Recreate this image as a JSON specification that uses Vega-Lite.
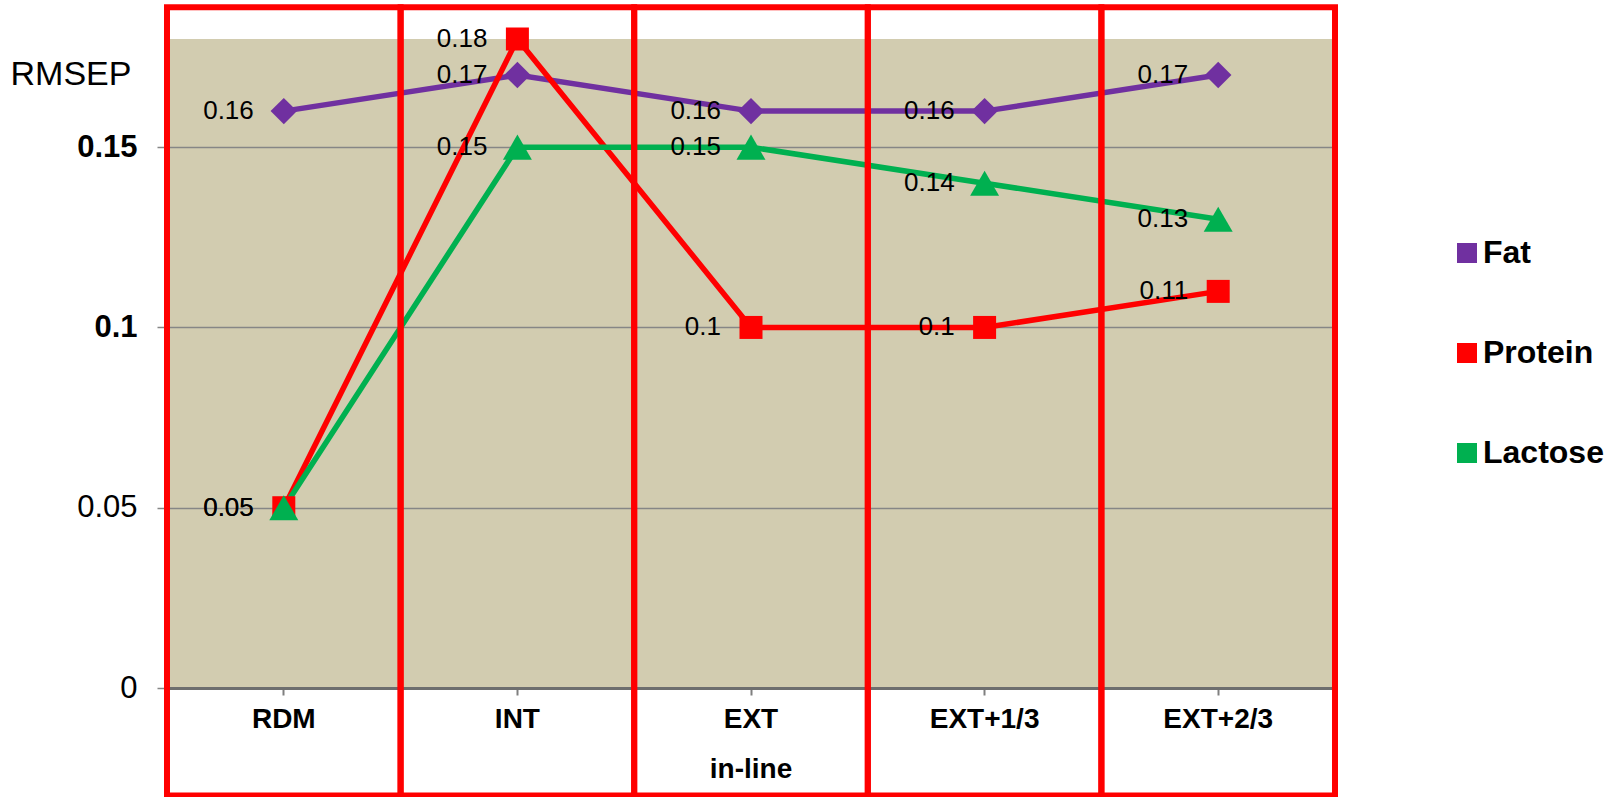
{
  "$schema": "https://vega.github.io/schema/vega-lite/v6.json",
  "width": 1168,
  "height": 649,
  "autosize": {"type": "none"},
  "padding": {"left": 167, "top": 39, "right": 275, "bottom": 109},
  "background": "white",
  "config": {
    "view": {"fill": "#D2CCB0", "stroke": null},
    "font": "Liberation Sans"
  },
  "datasets": {
    "rmsep": [
      {"method": "RDM", "component": "Fat", "rmsep": 0.16},
      {"method": "INT", "component": "Fat", "rmsep": 0.17},
      {"method": "EXT", "component": "Fat", "rmsep": 0.16},
      {"method": "EXT+1/3", "component": "Fat", "rmsep": 0.16},
      {"method": "EXT+2/3", "component": "Fat", "rmsep": 0.17},
      {"method": "RDM", "component": "Protein", "rmsep": 0.05},
      {"method": "INT", "component": "Protein", "rmsep": 0.18},
      {"method": "EXT", "component": "Protein", "rmsep": 0.1},
      {"method": "EXT+1/3", "component": "Protein", "rmsep": 0.1},
      {"method": "EXT+2/3", "component": "Protein", "rmsep": 0.11},
      {"method": "RDM", "component": "Lactose", "rmsep": 0.05},
      {"method": "INT", "component": "Lactose", "rmsep": 0.15},
      {"method": "EXT", "component": "Lactose", "rmsep": 0.15},
      {"method": "EXT+1/3", "component": "Lactose", "rmsep": 0.14},
      {"method": "EXT+2/3", "component": "Lactose", "rmsep": 0.13}
    ],
    "panels": [
      {"method": "RDM"},
      {"method": "INT"},
      {"method": "EXT"},
      {"method": "EXT+1/3"},
      {"method": "EXT+2/3"}
    ]
  },
  "layer": [
    {
      "data": {"name": "rmsep"},
      "mark": {"type": "line", "strokeWidth": 5.5},
      "encoding": {
        "x": {
          "field": "method",
          "type": "nominal",
          "sort": ["RDM", "INT", "EXT", "EXT+1/3", "EXT+2/3"],
          "scale": {"type": "band", "paddingInner": 0, "paddingOuter": 0},
          "axis": {
            "title": null,
            "labelAngle": 0,
            "grid": false,
            "domainColor": "#6E6E6E",
            "domainWidth": 3,
            "tickColor": "#7F7F7F",
            "tickWidth": 2,
            "tickSize": 7,
            "labelFontSize": 28,
            "labelFontWeight": "bold",
            "labelColor": "black",
            "labelPadding": 10,
            "labelLineHeight": 50,
            "labelExpr": "datum.value == 'EXT' ? ['EXT', 'in-line'] : datum.value"
          }
        },
        "y": {
          "field": "rmsep",
          "type": "quantitative",
          "scale": {"domain": [0, 0.18], "nice": false, "zero": true},
          "axis": {
            "title": "RMSEP",
            "titleAngle": 0,
            "titleAlign": "left",
            "titleBaseline": "alphabetic",
            "titleX": -157,
            "titleY": 45,
            "titleFontSize": 34,
            "titleFontWeight": "normal",
            "titleColor": "black",
            "values": [0, 0.05, 0.1, 0.15],
            "format": "~g",
            "domain": false,
            "grid": true,
            "gridColor": "#868686",
            "gridWidth": 1.5,
            "tickColor": "#868686",
            "tickSize": 10,
            "tickWidth": 1.5,
            "labelPadding": 20,
            "labelFontSize": 31,
            "labelColor": "black",
            "labelFontWeight": {"condition": {"test": "datum.value >= 0.1", "value": "bold"}, "value": "normal"}
          }
        },
        "color": {
          "field": "component",
          "type": "nominal",
          "scale": {"domain": ["Fat", "Protein", "Lactose"], "range": ["#7030A0", "#FF0000", "#00B050"]},
          "legend": {
            "title": null,
            "orient": "none",
            "legendX": 1284,
            "legendY": 198,
            "padding": 0,
            "symbolType": "square",
            "symbolSize": 400,
            "symbolStrokeWidth": 0,
            "symbolOpacity": 1,
            "labelFontSize": 32,
            "labelFontWeight": "bold",
            "labelColor": "black",
            "labelOffset": 0,
            "rowPadding": 68
          }
        }
      }
    },
    {
      "data": {"name": "rmsep"},
      "transform": [{"filter": "datum.component == 'Fat'"}],
      "mark": {"type": "point", "filled": true, "opacity": 1, "shape": "diamond", "size": 700},
      "encoding": {
        "x": {"field": "method", "type": "nominal", "sort": ["RDM", "INT", "EXT", "EXT+1/3", "EXT+2/3"]},
        "y": {"field": "rmsep", "type": "quantitative"},
        "color": {"field": "component", "type": "nominal"}
      }
    },
    {
      "data": {"name": "rmsep"},
      "transform": [{"filter": "datum.component == 'Protein'"}],
      "mark": {"type": "point", "filled": true, "opacity": 1, "shape": "square", "size": 529},
      "encoding": {
        "x": {"field": "method", "type": "nominal", "sort": ["RDM", "INT", "EXT", "EXT+1/3", "EXT+2/3"]},
        "y": {"field": "rmsep", "type": "quantitative"},
        "color": {"field": "component", "type": "nominal"}
      }
    },
    {
      "data": {"name": "rmsep"},
      "transform": [{"filter": "datum.component == 'Lactose'"}],
      "mark": {"type": "point", "filled": true, "opacity": 1, "shape": "triangle-up", "size": 840},
      "encoding": {
        "x": {"field": "method", "type": "nominal", "sort": ["RDM", "INT", "EXT", "EXT+1/3", "EXT+2/3"]},
        "y": {"field": "rmsep", "type": "quantitative"},
        "color": {"field": "component", "type": "nominal"}
      }
    },
    {
      "data": {"name": "rmsep"},
      "mark": {"type": "text", "align": "right", "baseline": "middle", "dx": -30, "fontSize": 26, "color": "black"},
      "encoding": {
        "x": {"field": "method", "type": "nominal", "sort": ["RDM", "INT", "EXT", "EXT+1/3", "EXT+2/3"]},
        "y": {"field": "rmsep", "type": "quantitative"},
        "text": {"field": "rmsep", "type": "quantitative", "format": "~g"}
      }
    },
    {
      "data": {"name": "panels"},
      "mark": {"type": "rect", "fill": "transparent", "stroke": "#FF0000", "strokeWidth": 6, "clip": false},
      "encoding": {
        "x": {"field": "method", "type": "nominal", "sort": ["RDM", "INT", "EXT", "EXT+1/3", "EXT+2/3"]},
        "y": {"datum": 0.1888, "type": "quantitative"},
        "y2": {"datum": -0.0298}
      }
    }
  ]
}
